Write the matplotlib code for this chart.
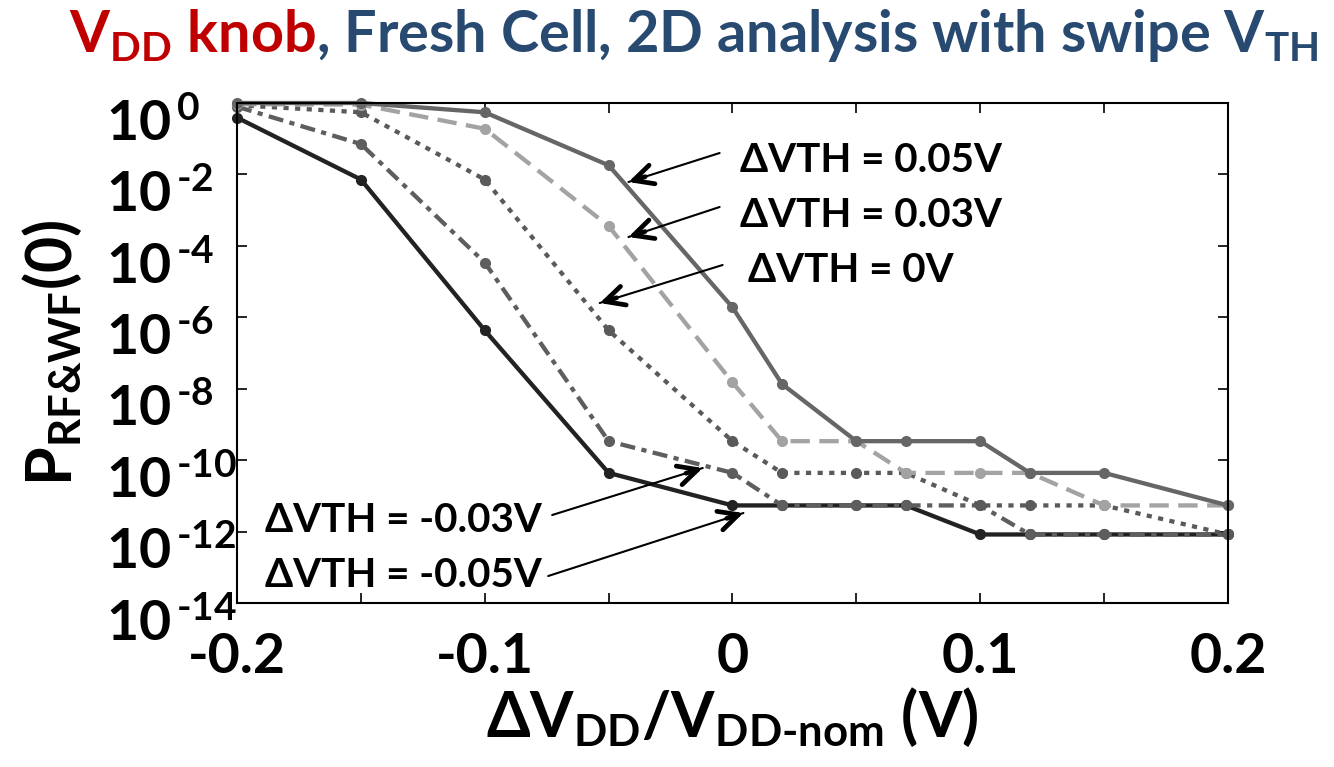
import numpy as np
import matplotlib
matplotlib.use('Agg')
import matplotlib.pyplot as plt
from matplotlib.ticker import FixedLocator, FuncFormatter, NullFormatter
from matplotlib.transforms import ScaledTranslation

# fonts
plt.rcParams['font.family'] = ['Lato', 'Open Sans', 'DejaVu Sans']
plt.rcParams['font.weight'] = 'bold'
plt.rcParams['mathtext.fontset'] = 'custom'
plt.rcParams['mathtext.rm'] = 'Lato:bold'
plt.rcParams['mathtext.it'] = 'Lato:bold'
plt.rcParams['mathtext.bf'] = 'Lato:bold'
plt.rcParams['mathtext.default'] = 'regular'
plt.rcParams['axes.unicode_minus'] = False

# DATA
#------------------------
dvdd = [-0.2, -0.15, -0.1, -0.05, 0.0, 0.02, 0.05, 0.07, 0.1, 0.12, 0.15, 0.2]
p_vth_p05 = [1.0, 1.0, 0.55, 1.8e-2, 1.9e-6, 1.35e-8, 3.4e-10, 3.4e-10, 3.4e-10, 4.4e-11, 4.4e-11, 5.4e-12]
p_vth_p03 = [0.93, 0.9, 0.19, 3.6e-4, 1.5e-8, 3.4e-10, 3.4e-10, 4.4e-11, 4.4e-11, 4.4e-11, 5.4e-12, 5.4e-12]
p_vth_0 = [0.87, 0.55, 7.2e-3, 4.3e-7, 3.4e-10, 4.4e-11, 4.4e-11, 4.4e-11, 5.4e-12, 5.4e-12, 5.4e-12, 8.3e-13]
p_vth_m03 = [0.79, 7.1e-2, 3.4e-5, 3.4e-10, 4.4e-11, 5.4e-12, 5.4e-12, 5.4e-12, 5.4e-12, 8.3e-13, 8.3e-13, 8.3e-13]
p_vth_m05 = [0.39, 7.2e-3, 4.3e-7, 4.4e-11, 5.4e-12, 5.4e-12, 5.4e-12, 5.4e-12, 8.3e-13, 8.3e-13, 8.3e-13, 8.3e-13]
labels = ['ΔVTH = 0.05V', 'ΔVTH = 0.03V', 'ΔVTH = 0V', 'ΔVTH = -0.03V', 'ΔVTH = -0.05V']
x_ticks = [-0.2, -0.1, 0, 0.1, 0.2]
x_tick_labels = ['-0.2', '-0.1', '0', '0.1', '0.2']
y_ticks = [1e-14, 1e-12, 1e-10, 1e-8, 1e-6, 1e-4, 1e-2, 1e0]
#------------------------

fig = plt.figure(figsize=(13.34, 7.67), dpi=100)
ax = fig.add_axes([0.1777, 0.2138, 0.7428, 0.6519])

lw = 3.1
ms = 7
ax.plot(dvdd, p_vth_m05, color='#222222', lw=lw, marker='o', ms=ms, clip_on=False)
ax.plot(dvdd, p_vth_m03, color='#5e5e5e', lw=lw, marker='o', ms=ms, clip_on=False,
        dashes=(3.5, 1.5, 1.2, 1.5))
ax.plot(dvdd, p_vth_0, color='#5a5a5a', lw=lw, marker='o', ms=ms, clip_on=False,
        dashes=(1.2, 1.5))
ax.plot(dvdd, p_vth_p03, color='#a3a3a3', lw=lw, marker='o', ms=ms, clip_on=False,
        dashes=(4.5, 2.2))
ax.plot(dvdd, p_vth_p05, color='#666666', lw=lw, marker='o', ms=ms, clip_on=False)

ax.set_yscale('log')
ax.set_xlim(-0.2, 0.2)
ax.set_ylim(1e-14, 1)
ax.yaxis.set_major_locator(FixedLocator(y_ticks))
ax.yaxis.set_minor_locator(FixedLocator([]))
ax.yaxis.set_major_formatter(FuncFormatter(
    lambda v, pos: r'10$^{\,\text{%d}}$' % int(round(np.log10(v)))))
ax.yaxis.set_minor_formatter(NullFormatter())
ax.set_xticks(x_ticks)
ax.set_xticklabels(x_tick_labels)
ax.set_xticks([-0.15, -0.05, 0.05, 0.15], minor=True)

for s in ax.spines.values():
    s.set_linewidth(1.5)
ax.tick_params(which='both', direction='in', top=True, right=True, length=7, width=1.2)
ax.tick_params(axis='x', which='major', labelsize=40, pad=21)
ax.tick_params(axis='y', which='major', labelsize=40, pad=94)
# the "10" sits just under its tick in the original
shift = ScaledTranslation(0, -0.16, fig.dpi_scale_trans)
for t in ax.get_yticklabels():
    t.set_horizontalalignment('left')
    t.set_transform(t.get_transform() + shift)

ax.set_xlabel(r'ΔV$_{DD}$/V$_{\text{DD-nom}}$ (V)', fontsize=45, fontweight='bold', labelpad=2)
ax.set_ylabel(r'P$_{\text{RF&WF}}$(0)', fontsize=45, fontweight='bold', labelpad=16)

# annotations
arrow_txt = dict(fontsize=29, fontweight='bold', va='center', ha='left')
ann = [
    (labels[0], (0.508, 0.886), (0.487, 0.900), (0.395, 0.842)),
    (labels[1], (0.508, 0.776), (0.487, 0.792), (0.395, 0.732)),
    (labels[2], (0.516, 0.666), (0.490, 0.676), (0.366, 0.600)),
    (labels[3], (0.028, 0.166), (0.318, 0.176), (0.470, 0.270)),
    (labels[4], (0.028, 0.056), (0.314, 0.054), (0.511, 0.180)),
]
for lab, tpos, start, tip in ann:
    ax.text(tpos[0], tpos[1], lab, transform=ax.transAxes, **arrow_txt)
    ax.annotate('', xy=tip, xytext=start, xycoords='axes fraction', textcoords='axes fraction',
                arrowprops=dict(arrowstyle='-', lw=1.5, color='black', shrinkA=0, shrinkB=0))
    d = np.array(tip) - np.array(start)
    near = np.array(tip) - 0.02 * d / np.linalg.norm(d)
    ax.annotate('', xy=tip, xytext=near, xycoords='axes fraction', textcoords='axes fraction',
                arrowprops=dict(arrowstyle='->,head_length=1.4,head_width=0.7', lw=3.4,
                                color='black', shrinkA=0, shrinkB=0))

# title in two colours
y_title = 0.932
t1 = fig.text(0.052, y_title, r'V$_{DD}$ knob', color='#c00000', fontsize=41.5,
              fontweight='bold', va='baseline', ha='left')
fig.canvas.draw()
bb = t1.get_window_extent()
fig.text(bb.x1 / fig.bbox.width, y_title, r', Fresh Cell, 2D analysis with swipe V$_{TH}$',
         color='#284a70', fontsize=41.5, fontweight='bold', va='baseline', ha='left')

fig.savefig('out.png', dpi=100)
